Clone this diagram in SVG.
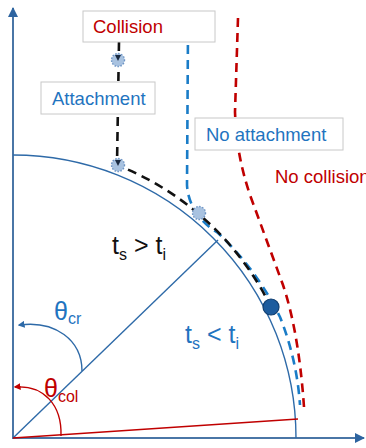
<svg xmlns="http://www.w3.org/2000/svg" width="366" height="448" viewBox="0 0 366 448">
<defs>
<style>
.axis{stroke:#4a76a6;stroke-width:2;fill:none}
.geo{stroke:#2e6aa8;stroke-width:1.4;fill:none}
.box{fill:#fff;stroke:#c8c8c8;stroke-width:1}
.lbl{font-family:"Liberation Sans",Arial,sans-serif;font-size:18.5px}
.math{font-family:"Liberation Sans",Arial,sans-serif;font-size:25px}
.sub{font-size:16px}
.red{fill:#c00000}
.blue{fill:#1f74c0}
.blk{fill:#111}
.dash{fill:none;stroke-width:2.6;stroke-dasharray:9,6}
.gear{fill:#a8c2e0;stroke:#6d94c4;stroke-width:1.4;stroke-dasharray:1.5,1.5}
</style>
<marker id="axarr" viewBox="0 0 10 10" refX="9" refY="5" markerWidth="5" markerHeight="5" orient="auto">
<path d="M0,0 L10,5 L0,10 z" fill="#2d64a0"/>
</marker>
<marker id="barr" viewBox="0 0 10 10" refX="8" refY="5" markerWidth="7" markerHeight="7" orient="auto" markerUnits="userSpaceOnUse">
<path d="M0,0 L10,5 L0,10 z" fill="#2e6aa8"/>
</marker>
<marker id="rarr" viewBox="0 0 10 10" refX="8" refY="5" markerWidth="7" markerHeight="7" orient="auto" markerUnits="userSpaceOnUse">
<path d="M0,0 L10,5 L0,10 z" fill="#c00000"/>
</marker>
</defs>

<g id="axes">
<line class="axis" x1="13" y1="439" x2="13" y2="8" marker-end="url(#axarr)"/>
<line class="axis" x1="12" y1="438" x2="364" y2="438" marker-end="url(#axarr)"/>
</g>

<g id="geometry">
<path class="geo" d="M13,155 A283,283 0 0 1 296,438"/>
<line class="geo" x1="13" y1="438" x2="218" y2="240"/>
<line x1="13" y1="438" x2="298" y2="419" stroke="#c00000" stroke-width="1.4"/>
<path class="geo" d="M82,371 C82,340 55,320 19,325" marker-end="url(#barr)"/>
<path d="M61,436 C62,405 44,385 15,387" fill="none" stroke="#c00000" stroke-width="1.4" marker-end="url(#rarr)"/>
</g>

<g id="connectors">
<path class="dash" stroke="#c00000" d="M238,18 L235,112 C236,140 240,165 250,195 L283,285 C292,312 300,350 304,407"/>
<path class="dash" stroke="#1a7cc7" d="M188,30 L187,185 C188,205 200,222 218,233 A292,292 0 0 1 280,317 A291,291 0 0 1 300,405"/>
<path class="dash" stroke="#111" d="M119,42 L117,165 A290,290 0 0 1 271,307"/>
</g>

<g id="box-collision">
<rect class="box" x="83" y="11" width="132" height="31"/>
<text class="lbl red" x="93" y="33">Collision</text>
</g>
<g id="box-attachment">
<rect class="box" x="41" y="82" width="114" height="32"/>
<text class="lbl blue" x="52" y="105">Attachment</text>
</g>
<g id="box-noattachment">
<rect class="box" x="195" y="118" width="148" height="32"/>
<text class="lbl blue" x="206" y="141">No attachment</text>
</g>
<g id="label-nocollision">
<text class="lbl red" x="275" y="183">No collision</text>
</g>

<g id="particles">
<circle class="gear" cx="118" cy="60" r="6.5"/>
<circle class="gear" cx="118" cy="165" r="6.5"/>
<circle class="gear" cx="199" cy="213" r="6.5"/>
<path d="M115,160 L121,160 L118,166 z" fill="#1a2a40"/>
<path d="M115,55 L121,55 L118,61 z" fill="#1a2a40"/>
<circle cx="271" cy="307" r="8" fill="#1d5c9e" stroke="#123f70" stroke-width="1.2"/>
</g>

<g id="labels">
<text class="math blk" x="112" y="254">t<tspan class="sub" dy="6">s</tspan><tspan dy="-6"> &gt; t</tspan><tspan class="sub" dy="6">i</tspan></text>
<text class="math blue" x="185" y="343">t<tspan class="sub" dy="6">s</tspan><tspan dy="-6"> &lt; t</tspan><tspan class="sub" dy="6">i</tspan></text>
<text class="math blue" x="54" y="320">θ<tspan class="sub" dy="4">cr</tspan></text>
<text class="math red" x="44" y="397">θ<tspan class="sub" dy="5">col</tspan></text>
</g>
</svg>
